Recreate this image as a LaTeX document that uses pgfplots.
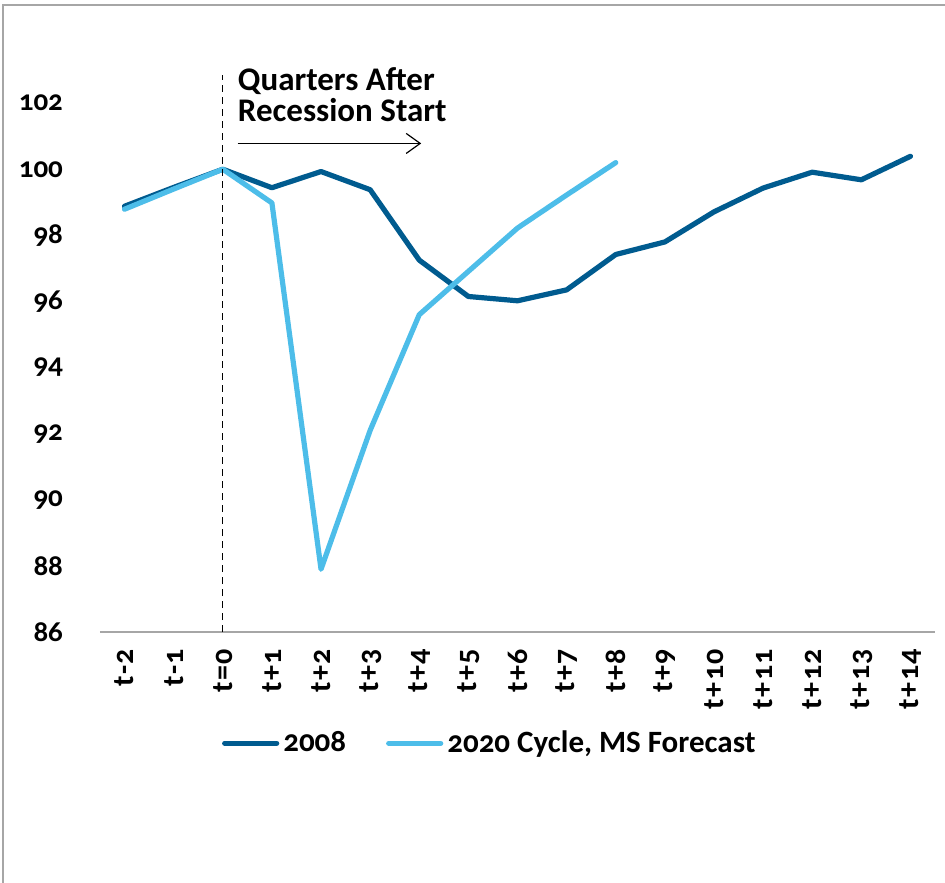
\documentclass[border=0pt]{standalone}
\usepackage{fontspec}
\setmainfont[Numbers=OldStyle]{Carlito}
\newfontfamily\xlab[Numbers=OldStyle,LetterSpace=5]{Carlito}
\usepackage{pgfplots}
\pgfplotsset{compat=1.18}
\usetikzlibrary{arrows.meta}
\definecolor{darkblue}{HTML}{005B8F}
\definecolor{lightblue}{HTML}{4DBDE9}
\definecolor{framegray}{HTML}{A6A6A6}
\begin{document}
\begin{tikzpicture}
\path[use as bounding box] (-50pt,-125pt) rectangle (422.5pt,316pt);
\draw[framegray, line width=1pt] (-48.5pt,-130pt) -- (-48.5pt,313.5pt) -- (430pt,313.5pt);
\begin{axis}[at={(0pt,0pt)}, anchor=south west, scale only axis,
  width=417.5pt, height=297.5pt,
  xmin=-2.5, xmax=14.5, ymin=86, ymax=104,
  ytick={86,88,...,102},
  xtick={-2,...,14},
  xticklabels={t-2,t-1,t=0,t+1,t+2,t+3,t+4,t+5,t+6,t+7,t+8,t+9,t+10,t+11,t+12,t+13,t+14},
  axis x line*=bottom, axis y line*=left,
  y axis line style={draw=none},
  x axis line style={draw=framegray, line width=0.8pt, -},
  major tick length=0pt,
  /pgf/number format/assume math mode=true,
  yticklabel style={font=\fontsize{14.5}{17}\selectfont\bfseries, xshift=-15pt},
  xticklabel style={rotate=90, anchor=east, xshift=-5pt, font=\xlab\fontsize{15}{18}\selectfont\bfseries},
  clip=false,
  legend columns=2,
  legend style={draw=none, at={(0.468,-0.187)}, anchor=center,
    font=\fontsize{15.5}{18}\selectfont\bfseries,
    /tikz/every even column/.append style={column sep=18pt}},
  legend image code/.code={\draw[#1, line width=2.6pt, line cap=round] (0pt,0pt) -- (26pt,0pt);},
]
\addplot[darkblue, line width=2.6pt, line cap=round, line join=round] coordinates {
(-2,98.88) (-1,99.45) (0,100.0) (1,99.44) (2,99.93) (3,99.38) (4,97.25) (5,96.15) (6,96.02) (7,96.35) (8,97.42) (9,97.80) (10,98.71) (11,99.43) (12,99.91) (13,99.68) (14,100.39)};
\addlegendentry{2008}
\addplot[lightblue, line width=2.6pt, line cap=round, line join=round] coordinates {
(-2,98.79) (-1,99.40) (0,100.0) (1,98.98) (2,87.9) (3,92.1) (4,95.6) (5,96.91) (6,98.22) (7,99.22) (8,100.2)};
\addlegendentry{2020 Cycle, MS Forecast}
\draw[black, line width=0.6pt, dash pattern=on 3.5pt off 2.5pt] (axis cs:0,86) -- (axis cs:0,102.85);
\node[anchor=north west, align=left, inner sep=0pt, font=\fontsize{16.5}{15.5}\selectfont\bfseries] at (axis cs:0.30,103.1) {Quarters After\\Recession Start};
\draw[black, line width=0.6pt, -{Straight Barb[length=7pt,width=10pt]}] (axis cs:0.30,100.78) -- (axis cs:4.04,100.78);
\end{axis}
\end{tikzpicture}
\end{document}
